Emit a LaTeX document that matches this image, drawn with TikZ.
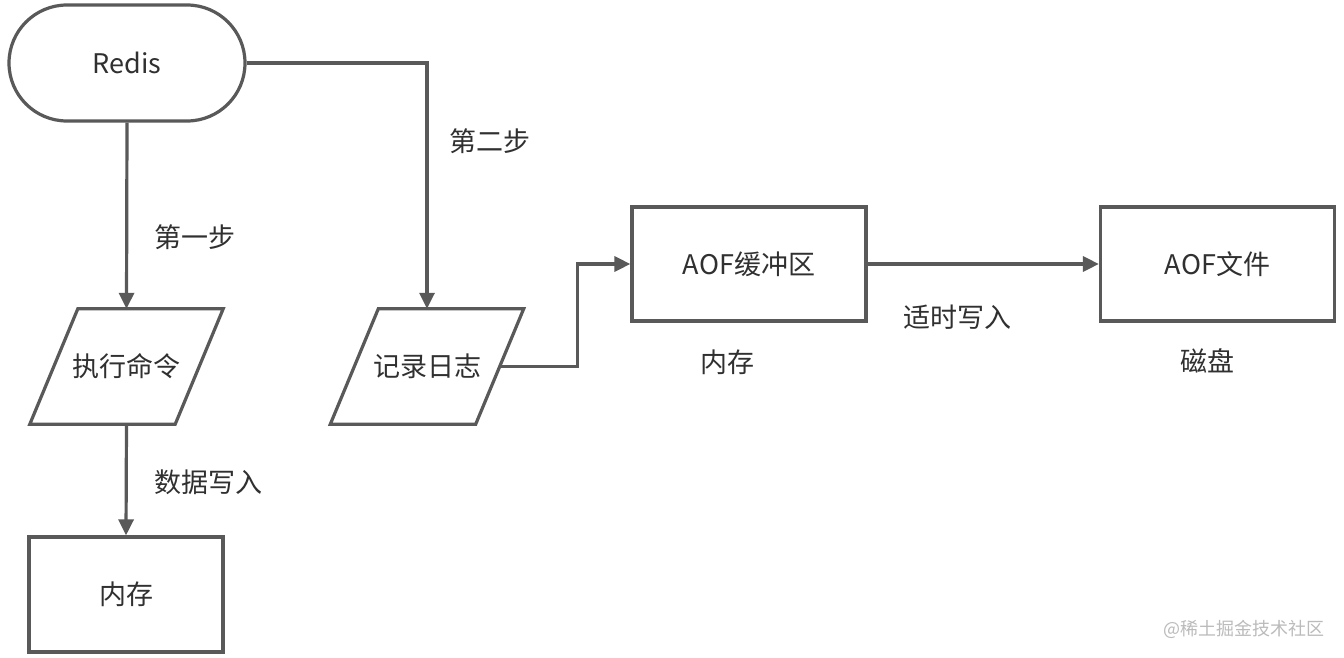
\documentclass[tikz,border=0pt]{standalone}
\usepackage{fontspec}
\setmainfont{Noto Sans CJK SC}
\usetikzlibrary{shapes.misc,arrows.meta}
\definecolor{linec}{HTML}{595959}
\definecolor{textc}{HTML}{303030}
\definecolor{wmc}{HTML}{BBBBBB}
\begin{document}
\begin{tikzpicture}[x=1pt,y=-1pt,
  every node/.style={text=textc,font=\fontsize{27}{32}\selectfont,inner sep=0pt},
  base/.style={draw=linec,line width=3.2pt},
  startbox/.style={base,rounded rectangle,minimum width=236pt,minimum height=116pt},
  iocore/.style={rectangle,minimum width=145pt,minimum height=115pt},
  iooutline/.style={base,line join=miter},
  procbox/.style={base,rectangle,minimum width=234pt,minimum height=114pt},
  membox/.style={base,rectangle,minimum width=194pt,minimum height=115pt},
  conn/.style={draw=linec,line width=3.2pt,-{Triangle[length=16pt,width=15pt]}},
  lbl/.style={}
]
\useasboundingbox (0,0) rectangle (1344,658);
\fill[white] (0,0) rectangle (1344,658);

\node[startbox] (redis) at (127,63) {Redis};
\node[iocore] (exec) at (126.5,366.5) {执行命令};
\node[iocore] (log) at (427,366.5) {记录日志};
\node[membox] (mem) at (126,594.5) {内存};
\node[procbox] (buf) at (749,264) {AOF缓冲区};
\node[procbox] (file) at (1217.5,264) {AOF文件};

\foreach \n in {exec,log}
  \draw[iooutline] ([xshift=24pt]\n.north west) -- ([xshift=24pt]\n.north east)
    -- ([xshift=-24pt]\n.south east) -- ([xshift=-24pt]\n.south west) -- cycle;

\draw[conn] (redis.south) -- (exec.north);
\draw[conn] (exec.south) -- (mem.north);
\draw[conn] (redis.east) -| (log.north);
\draw[conn] (log.east) -- ++(78,0) |- (buf.west);
\draw[conn] (buf.east) -- (file.west);

\node[lbl] (l1) at (195,237) {第一步};
\node[lbl] (l2) at (490,141) {第二步};
\node[lbl] (l3) at (208,482) {数据写入};
\node[lbl] (l4) at (957,317) {适时写入};
\node[lbl] (l5) at (727,362) {内存};
\node[lbl] (l6) at (1207,361) {磁盘};

\node[text=wmc,font=\fontsize{18}{20}\selectfont] (wm) at (1244,629) {@稀土掘金技术社区};
\end{tikzpicture}
\end{document}
